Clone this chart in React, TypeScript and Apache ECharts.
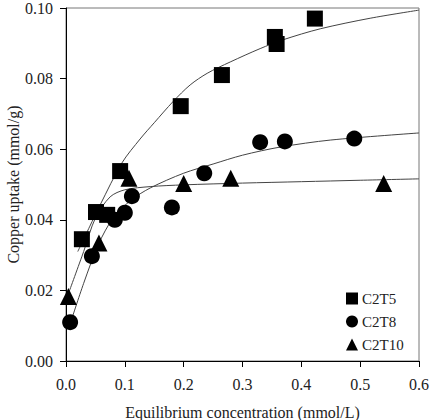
import React, { useEffect, useRef } from "react";
import * as echarts from "echarts";

// Measured isotherm points: [equilibrium concentration (mmol/L), copper uptake (mmol/g)]
const c2t5Points: [number, number][] = [
  [0.027, 0.0345],
  [0.051, 0.0422],
  [0.07, 0.0414],
  [0.092, 0.0538],
  [0.195, 0.0722],
  [0.265, 0.081],
  [0.355, 0.0918],
  [0.358, 0.0898],
  [0.423, 0.097],
];

const c2t8Points: [number, number][] = [
  [0.007, 0.011],
  [0.044, 0.0297],
  [0.083, 0.04],
  [0.1, 0.042],
  [0.112, 0.0467],
  [0.18, 0.0435],
  [0.235, 0.0532],
  [0.33, 0.062],
  [0.372, 0.0622],
  [0.49, 0.063],
];

const c2t10Points: [number, number][] = [
  [0.004, 0.0183],
  [0.056, 0.0334],
  [0.107, 0.0518],
  [0.2, 0.0503],
  [0.28, 0.0518],
  [0.54, 0.0503],
];

// Fitted model curves
const c2t5Fit: [number, number][] = [
  [0.02, 0.031],
  [0.04, 0.038],
  [0.058, 0.0442],
  [0.095, 0.0561],
  [0.126, 0.0629],
  [0.15, 0.0675],
  [0.182, 0.0735],
  [0.211, 0.0782],
  [0.24, 0.0815],
  [0.279, 0.0847],
  [0.33, 0.0885],
  [0.369, 0.091],
  [0.432, 0.0941],
  [0.517, 0.0971],
  [0.6, 0.0994],
];

const c2t8Fit: [number, number][] = [
  [0.008, 0.011],
  [0.03, 0.022],
  [0.055, 0.033],
  [0.08, 0.0405],
  [0.11, 0.0455],
  [0.143, 0.049],
  [0.2, 0.0532],
  [0.25, 0.0558],
  [0.3, 0.0583],
  [0.364, 0.0606],
  [0.45, 0.0626],
  [0.6, 0.0646],
];

const c2t10Fit: [number, number][] = [
  [0.005, 0.0195],
  [0.03, 0.031],
  [0.05, 0.0405],
  [0.075, 0.0465],
  [0.1, 0.0485],
  [0.143, 0.0494],
  [0.2, 0.0499],
  [0.3, 0.0504],
  [0.4, 0.0508],
  [0.5, 0.0512],
  [0.6, 0.0516],
];

const xTicks = { min: 0, max: 0.6, interval: 0.1 };
const yTicks = { min: 0, max: 0.1, interval: 0.02 };

const serif = "Liberation Serif";
const textColor = "#222";

export default function App() {
  const ref = useRef<HTMLDivElement>(null);

  useEffect(() => {
    if (!ref.current) return;
    const chart = echarts.init(ref.current, undefined, { renderer: "svg" });

    const fitLine = (data: [number, number][]) => ({
      type: "line" as const,
      data,
      smooth: 0.3,
      showSymbol: false,
      silent: true,
      z: 1,
      lineStyle: { color: "#444", width: 1 },
    });

    const marker = (name: string, data: [number, number][], symbol: string, size: number) => ({
      name,
      type: "scatter" as const,
      data,
      symbol,
      symbolSize: size,
      itemStyle: { color: "#000", opacity: 1 },
      z: 3,
    });

    chart.setOption({
      animation: false,
      backgroundColor: "#fff",
      textStyle: { fontFamily: serif },
      grid: {
        left: 66,
        top: 8,
        right: 11,
        bottom: 59,
        outerBoundsMode: "none",
        containLabel: false,
        show: true,
        borderColor: "#777",
        borderWidth: 1,
        backgroundColor: "transparent",
      },
      legend: {
        data: ["C2T5", "C2T8", "C2T10"],
        orient: "vertical",
        left: 341,
        top: 286,
        itemWidth: 12,
        itemHeight: 12,
        itemGap: 8,
        itemStyle: { opacity: 1 },
        textStyle: { fontFamily: serif, fontSize: 15, color: textColor, padding: [0, 0, 0, -1] },
      },
      xAxis: {
        type: "value",
        min: xTicks.min,
        max: xTicks.max,
        interval: xTicks.interval,
        name: "Equilibrium concentration (mmol/L)",
        nameLocation: "middle",
        nameGap: 43,
        nameTextStyle: { fontFamily: serif, fontSize: 16, color: textColor },
        axisLine: { lineStyle: { color: "#000", width: 1 } },
        axisTick: { length: 6, lineStyle: { color: "#000" } },
        axisLabel: {
          fontFamily: serif,
          fontSize: 16,
          color: textColor,
          margin: 15,
          formatter: (v: number) => v.toFixed(1),
        },
        splitLine: { show: false },
      },
      yAxis: {
        type: "value",
        min: yTicks.min,
        max: yTicks.max,
        interval: yTicks.interval,
        name: "Copper uptake (mmol/g)",
        nameLocation: "middle",
        nameGap: 45,
        nameMoveOverlap: false,
        nameTextStyle: { fontFamily: serif, fontSize: 16, color: textColor },
        axisLine: { show: true, lineStyle: { color: "#000", width: 1 } },
        axisTick: { show: true, length: 6, lineStyle: { color: "#000" } },
        axisLabel: {
          fontFamily: serif,
          fontSize: 16,
          color: textColor,
          margin: 13,
          formatter: (v: number) => v.toFixed(2),
        },
        splitLine: { show: false },
      },
      series: [
        fitLine(c2t5Fit),
        fitLine(c2t8Fit),
        fitLine(c2t10Fit),
        marker("C2T5", c2t5Points, "rect", 16),
        marker("C2T8", c2t8Points, "circle", 16),
        marker("C2T10", c2t10Points, "triangle", 17),
      ],
    });

    return () => chart.dispose();
  }, []);

  return <div ref={ref} style={{ width: 430, height: 420, position: "absolute", left: 0, top: 0 }} />;
}
